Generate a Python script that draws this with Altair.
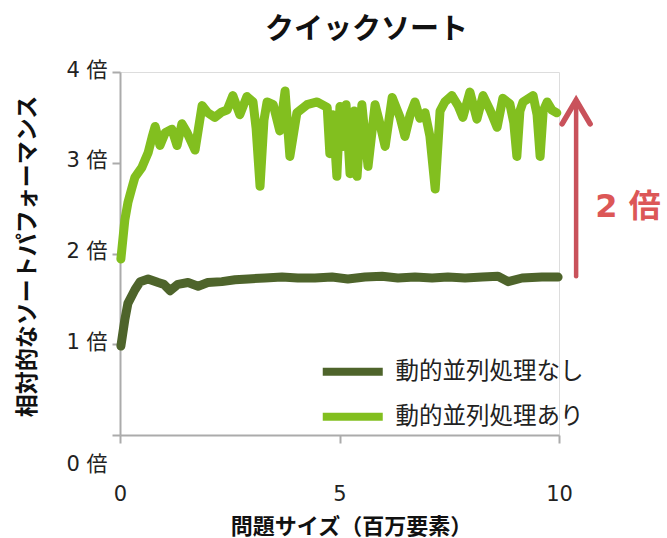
import altair as alt
import pandas as pd

# Series labels
series_off = "動的並列処理なし"
series_on = "動的並列処理あり"

# Problem size (millions of elements) and relative performance, dynamic parallelism off
dark_x = [0.02, 0.11, 0.18, 0.34, 0.46, 0.64, 0.87, 1.00, 1.14, 1.32, 1.55, 1.78, 2.00,
          2.32, 2.62, 2.92, 3.30, 3.69, 4.05, 4.44, 4.83, 5.19, 5.58, 5.97, 6.33, 6.72,
          7.11, 7.47, 7.86, 8.25, 8.61, 8.84, 9.16, 9.61, 9.98]
dark_y = [0.98, 1.27, 1.45, 1.60, 1.69, 1.72, 1.68, 1.66, 1.59, 1.66, 1.68, 1.64, 1.68,
          1.69, 1.71, 1.72, 1.73, 1.74, 1.73, 1.73, 1.74, 1.72, 1.74, 1.75, 1.73, 1.74,
          1.73, 1.74, 1.73, 1.74, 1.75, 1.69, 1.73, 1.74, 1.74]

# Problem size (millions of elements) and relative performance, dynamic parallelism on
light_x = [0.02, 0.11, 0.18, 0.27, 0.34, 0.50, 0.64, 0.73, 0.80, 0.91, 1.03, 1.18, 1.30,
           1.41, 1.53, 1.71, 1.87, 2.00, 2.16, 2.32, 2.44, 2.57, 2.73, 2.89, 3.03, 3.10,
           3.19, 3.28, 3.35, 3.49, 3.64, 3.76, 3.87, 4.03, 4.26, 4.49, 4.72, 4.78, 4.85,
           4.94, 5.01, 5.08, 5.15, 5.24, 5.33, 5.40, 5.51, 5.65, 5.81, 5.92, 6.04, 6.20,
           6.38, 6.49, 6.61, 6.72, 6.83, 6.95, 7.06, 7.18, 7.29, 7.40, 7.56, 7.70, 7.81,
           7.97, 8.13, 8.27, 8.43, 8.59, 8.72, 8.88, 8.97, 9.04, 9.11, 9.18, 9.41, 9.50,
           9.57, 9.64, 9.73, 9.84, 9.95]
light_y = [1.94, 2.37, 2.56, 2.72, 2.84, 2.95, 3.11, 3.28, 3.40, 3.19, 3.33, 3.37, 3.19,
           3.43, 3.33, 3.14, 3.63, 3.55, 3.50, 3.56, 3.58, 3.74, 3.53, 3.73, 3.67, 3.38,
           2.74, 3.47, 3.67, 3.64, 3.35, 3.79, 3.07, 3.55, 3.64, 3.67, 3.61, 3.10, 3.53,
           2.85, 3.62, 3.18, 3.64, 2.88, 3.57, 2.85, 3.64, 2.96, 3.64, 3.43, 3.18, 3.72,
           3.50, 3.29, 3.53, 3.67, 3.49, 3.55, 3.29, 2.71, 3.57, 3.67, 3.74, 3.63, 3.50,
           3.78, 3.48, 3.74, 3.58, 3.39, 3.71, 3.65, 3.44, 3.07, 3.57, 3.67, 3.74, 3.53,
           3.07, 3.57, 3.67, 3.58, 3.55]

# Speed-up annotation
arrow_x = 10.39
arrow_y_start = 1.75
arrow_y_end = 3.69
speedup_label = "2 倍"
speedup_x = 11.57
speedup_y = 2.51

chart_title = "クイックソート"
x_title = "問題サイズ（百万要素）"
y_title = "相対的なソートパフォーマンス"
x_ticks = [0, 5, 10]
y_ticks = [0, 1, 2, 3, 4]

dark_color = "#4e642b"
light_color = "#82bf1f"
arrow_color = "#c9525b"
label_color = "#dc5757"
axis_color = "#ababab"
font = "DejaVu Sans, Noto Sans CJK JP"
cjk_font = "Noto Sans CJK JP"

lines = pd.concat([
    pd.DataFrame({"size": dark_x, "perf": dark_y, "series": series_off}),
    pd.DataFrame({"size": light_x, "perf": light_y, "series": series_on}),
], ignore_index=True)

x_scale = alt.Scale(domain=[0, 10], nice=False, zero=False)
y_scale = alt.Scale(domain=[0, 4], nice=False)

line_layer = alt.Chart(lines).mark_line(
    strokeWidth=9, strokeJoin="round", strokeCap="round"
).encode(
    x=alt.X("size:Q", scale=x_scale, axis=alt.Axis(
        values=x_ticks, title=x_title, grid=False, labelFlush=False,
        domainColor=axis_color, domainWidth=2, tickColor=axis_color, tickWidth=2, tickSize=8,
        labelFont=font, labelFontSize=21, labelColor="#222222", labelPadding=40,
        labelAngle=0,
        titleFont=cjk_font, titleFontSize=22, titleFontWeight="bold", titleColor="#111111",
        titleX=231, titleY=91, titleBaseline="middle", titleAlign="center",
    )),
    y=alt.Y("perf:Q", scale=y_scale, axis=alt.Axis(
        values=y_ticks, title=y_title, grid=False,
        labelExpr="datum.value + ' 倍'",
        labelOffset={"condition": {"test": "datum.value === 0", "value": 29}, "value": -2},
        domainColor=axis_color, domainWidth=2, tickColor=axis_color, tickWidth=2, tickSize=8,
        labelFont=font, labelFontSize=21, labelColor="#222222", labelPadding=5,
        titleFont=cjk_font, titleFontSize=23, titleFontWeight="bold", titleColor="#111111",
        titleX=-93, titleY=184, titleBaseline="middle", titleAlign="center", titleAngle=-90,
    )),
    color=alt.Color("series:N",
        scale=alt.Scale(domain=[series_off, series_on], range=[dark_color, light_color]),
        sort=[series_off, series_on],
        legend=alt.Legend(
            title=None, orient="none", legendX=221, legendY=288,
            symbolType="M-6,0L6,0", symbolSize=100, symbolStrokeWidth=8,
            labelFont=cjk_font, labelFontSize=23.5, labelColor="#222222", labelLimit=0,
            labelOffset=31, rowPadding=12,
        )),
)

arrow = pd.DataFrame({"x": [arrow_x], "y0": [arrow_y_start], "y1": [arrow_y_end]})

arrow_shaft = alt.Chart(arrow).mark_rule(
    color=arrow_color, strokeWidth=4.5, strokeCap="round"
).encode(
    x=alt.X("x:Q", scale=x_scale),
    y=alt.Y("y0:Q", scale=y_scale),
    y2="y1:Q",
)

arrow_head = alt.Chart(arrow).mark_point(
    shape="M-1,1.7L0,0L1,1.7", filled=False, size=784,
    color=arrow_color, strokeWidth=5.5, strokeCap="round", strokeJoin="miter", opacity=1,
).encode(
    x=alt.X("x:Q", scale=x_scale),
    y=alt.Y("y1:Q", scale=y_scale),
)

speedup = pd.DataFrame({"x": [speedup_x], "y": [speedup_y], "text": [speedup_label]})

speedup_text = alt.Chart(speedup).mark_text(
    font=font, fontSize=32, fontWeight="bold", color=label_color,
    align="center", baseline="middle",
).encode(
    x=alt.X("x:Q", scale=x_scale),
    y=alt.Y("y:Q", scale=y_scale),
    text="text:N",
)

chart = alt.layer(line_layer, arrow_shaft, arrow_head, speedup_text).properties(
    width=439,
    height=363,
    autosize=alt.AutoSizeParams(type="none"),
    padding={"left": 120, "top": 72, "right": 108, "bottom": 103},
    title=alt.TitleParams(
        chart_title, font=cjk_font, fontSize=29, fontWeight="bold", color="#111111",
        anchor="middle", dx=27, offset=14,
    ),
).configure_view(strokeWidth=0).configure(background="white")

chart.save("out.html", embed_options={"renderer": "svg", "actions": False})
